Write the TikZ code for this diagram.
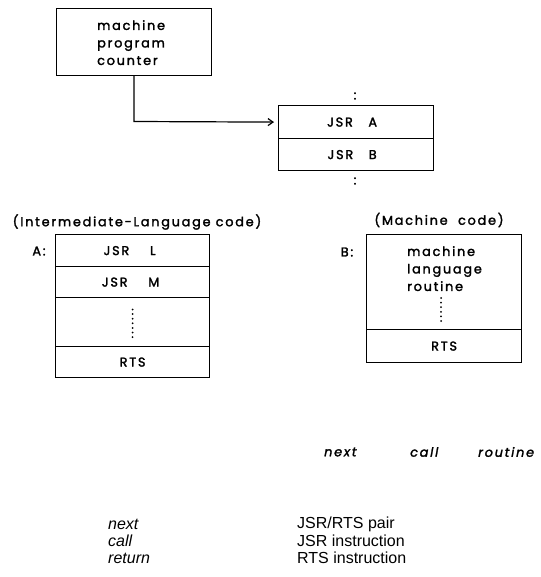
\documentclass[tikz,border=0pt]{standalone}
\usepackage{fontspec}
\setmainfont{Liberation Sans}
\newfontfamily\geo[LetterSpace=14,FakeBold=2]{Poppins}
\usetikzlibrary{arrows.meta}
\tikzset{
  cell/.style={draw, line width=1.2pt, minimum width=155pt, inner sep=0pt, anchor=north west},
  gtext/.style={font=\geo\fontsize{12.8}{17.5}\selectfont, inner sep=0pt},
  gital/.style={font=\geo\itshape\fontsize{12.8}{14}\selectfont, inner sep=0pt, anchor=west},
  plain/.style={font=\fontsize{16}{17}\selectfont, inner sep=0pt, anchor=west},
  pital/.style={font=\itshape\fontsize{16}{17}\selectfont, inner sep=0pt, anchor=west},
  arr/.style={line width=1.2pt, -{Straight Barb[length=5pt,width=7pt]}},
  dotcol/.style={line width=2pt, line cap=round, dash pattern=on 0pt off 4.6pt}
}
\begin{document}
\begin{tikzpicture}[x=1pt,y=-1pt]
\useasboundingbox (0,0) rectangle (540,577);
% program counter box
\node[cell, minimum height=67pt] (pc) at (56,8) {};
\node[gtext, align=left, anchor=north west] (pctext) at (97,20) {machine\\program\\counter};
% JSR A / JSR B
\node[cell, minimum height=33pt] (jsra) at (278,105) {};
\node[cell, minimum height=32pt] (jsrb) at (278,138) {};
\node[gtext] (ja) at ([xshift=-4pt]jsra.center) {JSR\ \ \ A};
\node[gtext] (jb) at ([xshift=-4pt]jsrb.center) {JSR\ \ \ B};
\node[gtext] (c1) at (355,96) {:};
\node[gtext] (c2) at (355,181) {:};
% arrow
\coordinate (bend) at (134,121.5);
\draw[arr] (pc.south -| bend) -- (bend) -- ([xshift=-4pt]jsra.west);
% headings
\node[gtext] (h1) at (137,222) {(Intermediate-Language code)};
\node[gtext] (h2) at (439,220) {(Machine\ \ code)};
% box A
\node[gtext] (la) at (39,251) {A:};
\node[cell, minimum width=154pt, minimum height=32pt] (a1) at (55,234) {};
\node[cell, minimum width=154pt, minimum height=31pt] (a2) at (55,266) {};
\node[cell, minimum width=154pt, minimum height=49pt] (a3) at (55,297) {};
\node[cell, minimum width=154pt, minimum height=31pt] (a4) at (55,346) {};
\node[gtext] (at1) at ([xshift=-3pt]a1.center) {JSR\ \ \ \ L};
\node[gtext] (at2) at ([xshift=-2pt]a2.center) {JSR\ \ \ \ M};
\node[gtext] (at4) at (a4.center) {RTS};
\draw[dotcol] ([yshift=-15pt]a3.center) -- ([yshift=16pt]a3.center);
% box B
\node[gtext] (lb) at (347,252) {B:};
\node[cell, minimum height=95pt] (b1) at (366,234) {};
\node[cell, minimum height=33pt] (b2) at (366,329) {};
\node[gtext, align=left, anchor=north west] (bt) at (407,246) {machine\\language\\routine};
\node[gtext] (bt2) at (b2.center) {RTS};
\draw[dotcol] (441,298) -- (441,322);
% italic row
\node[gital] (n1) at (324,452) {next};
\node[gital] (n2) at (410,452) {call};
\node[gital] (n3) at (478,452) {routine};
% bottom list
\node[pital] (l1) at (108,524) {next};
\node[pital] (l2) at (108,541) {call};
\node[pital] (l3) at (108,558) {return};
\node[plain] (r1) at (297,524) {JSR/RTS pair};
\node[plain] (r2) at (297,541) {JSR instruction};
\node[plain] (r3) at (297,558) {RTS instruction};
\end{tikzpicture}
\end{document}
